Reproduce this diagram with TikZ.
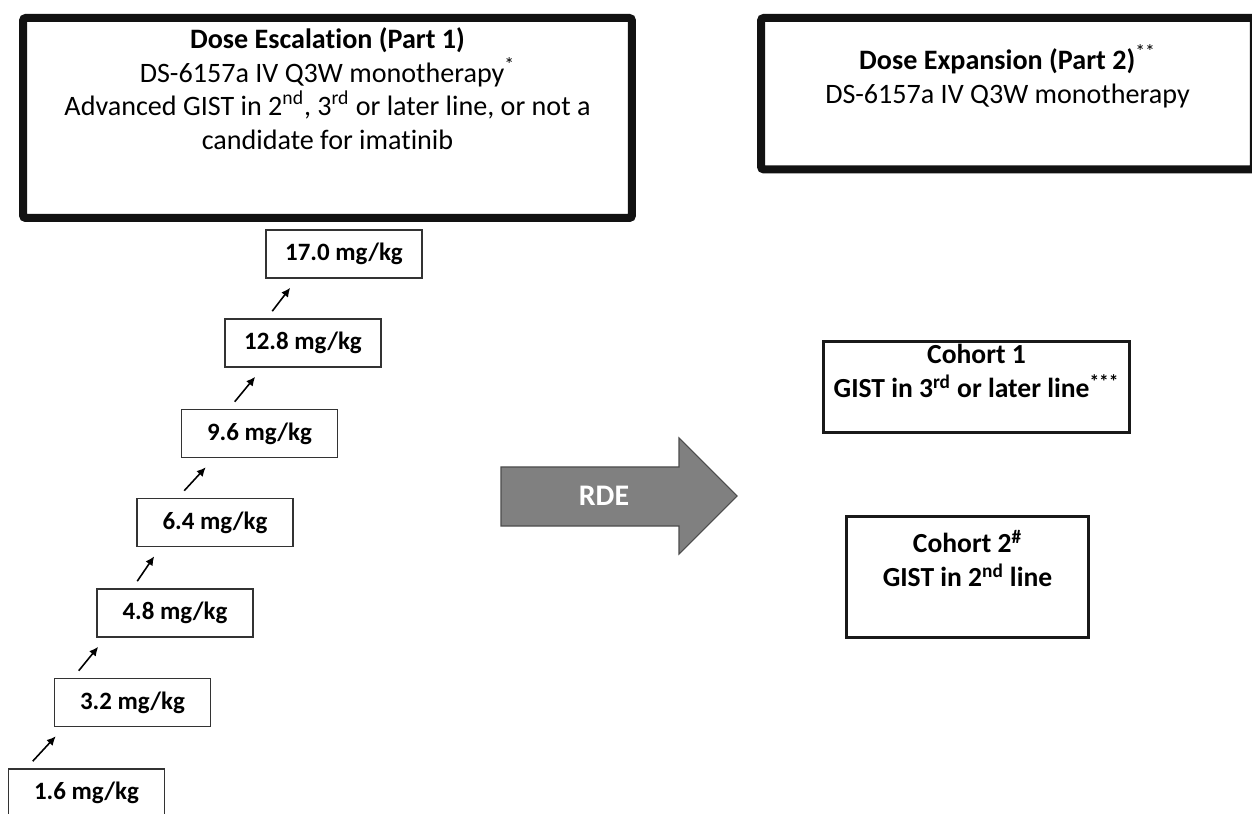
\documentclass[tikz,border=0pt]{standalone}
\usepackage{fontspec}
\setmainfont{Carlito}[Ligatures=NoCommon]
\usetikzlibrary{arrows.meta,shapes,calc}

\tikzset{
  partbox/.style={draw=black!93, line width=0.16cm, rounded corners=1.5pt, align=center, anchor=north, font=\fontsize{16}{19}\selectfont},
  dosebox/.style={draw=black!80, line width=0.9pt, minimum width=3.12cm, minimum height=0.96cm, font=\bfseries\fontsize{14.2}{17}\selectfont},
  cohortbox/.style={draw=black!90, line width=0.06cm, align=center, anchor=north, font=\bfseries\fontsize{15.7}{19}\selectfont},
}

\begin{document}
\begin{tikzpicture}[x=0.02cm, y=-0.02cm, >={Latex[length=1.8mm,width=1.7mm]}]
\useasboundingbox (0,0) rectangle (1252,814);

% part 1 and part 2 headers
\node [partbox, minimum width=12.18cm, inner ysep=0.2cm, text depth=1.18cm] (esc) at (327.5,14) {\textbf{Dose Escalation (Part 1)}\\DS-6157a IV Q3W monotherapy\textsuperscript{*}\\Advanced GIST in 2\textsuperscript{nd}, 3\textsuperscript{rd} or later line, or not a\\candidate for imatinib};
\node [partbox, minimum width=9.86cm, inner ysep=0.54cm, text depth=0.78cm] (exp) at (1007.5,14) {\textbf{Dose Expansion (Part 2)}\textsuperscript{**}\\DS-6157a IV Q3W monotherapy};

% dose levels
\node [dosebox] (d1) at (86.5,793) {1.6 mg/kg};
\node [dosebox] (d2) at (132.5,702.5) {3.2 mg/kg};
\node [dosebox] (d3) at (175,613) {4.8 mg/kg};
\node [dosebox] (d4) at (215,522.5) {6.4 mg/kg};
\node [dosebox] (d5) at (259.5,433.5) {9.6 mg/kg};
\node [dosebox] (d6) at (303,343) {12.8 mg/kg};
\node [dosebox] (d7) at (344,254) {17.0 mg/kg};

\foreach \lo/\hi/\dx in {d1/d2/25, d2/d3/25, d3/d4/41, d4/d5/48, d5/d6/54, d6/d7/48}
  \draw[->, line width=0.9pt] ($(\lo.north west)+(\dx,-7)$) -- ($(\hi.south west)+(\dx-23,9)$);

% RDE arrow
\filldraw[fill=black!50, draw=black!70, line width=0.6pt] (501,467) -- (679,467) -- (679,438) -- (737,496) -- (679,554) -- (679,526) -- (501,526) -- cycle;
\node [font=\bfseries\fontsize{17}{20}\selectfont, text=white] (rde) at (604,496) {RDE};

% expansion cohorts
\node [cohortbox, minimum width=6.14cm, inner ysep=0.06cm, text depth=0.64cm] (c1) at (976.5,340) {Cohort 1\\GIST in 3\textsuperscript{rd} or later line\textsuperscript{***}};
\node [cohortbox, minimum width=4.86cm, inner ysep=0.28cm, text depth=0.74cm] (c2) at (967.5,515) {Cohort 2\textsuperscript{\#}\\GIST in 2\textsuperscript{nd} line};
\end{tikzpicture}
\end{document}
